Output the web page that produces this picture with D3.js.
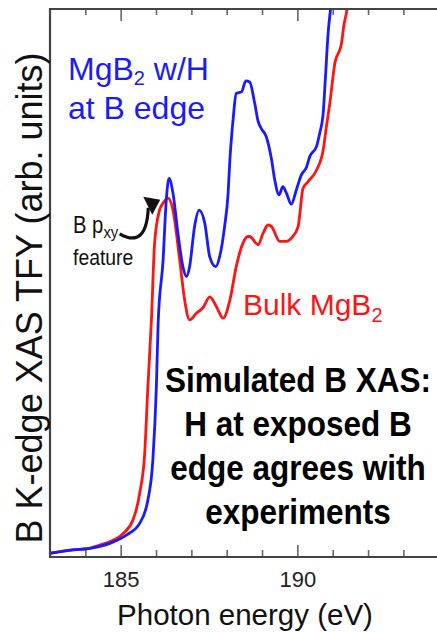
<!DOCTYPE html>
<html><head><meta charset="utf-8">
<script src="https://cdn.jsdelivr.net/npm/d3@7"></script>
<style>
html,body{margin:0;padding:0;background:#fff;}
svg{display:block;font-family:"Liberation Sans",Arial,Helvetica,sans-serif;}
</style></head>
<body>
<svg id="chart" width="437" height="632"></svg>
<script>
// ---- data ----
const bulkEnergy = [183.0,183.65,184.12,184.41,184.69,185.07,185.35,185.54,185.68,185.77,185.87,185.96,186.10,186.20,186.34,186.48,186.67,186.81,186.95,187.14,187.33,187.52,187.71,187.90,188.09,188.27,188.46,188.60,188.65,188.89,189.03,189.17,189.27,189.50,189.69,189.83,190.02,190.16,190.30,190.54,190.73,190.82,190.92,191.06,191.25,191.31,191.41,191.48];
const bulkTFY = [0.05,0.11,0.14,0.20,0.26,0.41,0.66,1.15,1.88,3.09,4.31,5.71,6.31,6.44,6.53,6.31,5.40,4.67,4.31,4.43,4.53,4.73,4.55,4.34,4.67,5.28,5.71,5.83,5.83,5.68,5.89,6.04,6.01,5.74,5.74,5.80,6.01,6.71,6.83,7.04,7.41,7.83,8.27,8.99,9.36,9.66,9.99,10.33];
const hEnergy = [183.0,183.65,184.12,184.69,185.16,185.54,185.77,185.91,186.01,186.06,186.20,186.29,186.37,186.48,186.62,186.76,186.86,186.95,187.09,187.22,187.38,187.52,187.69,187.80,187.94,188.04,188.09,188.18,188.27,188.42,188.54,188.65,188.79,188.89,188.98,189.12,189.27,189.36,189.48,189.59,189.69,189.83,189.97,190.11,190.26,190.35,190.54,190.63,190.73,190.79,190.87,190.94,191.0];
const hTFY = [0.05,0.11,0.14,0.23,0.38,0.60,1.02,1.75,3.09,4.25,5.40,6.50,6.89,6.62,5.89,5.28,5.10,5.28,6.01,6.31,6.07,5.46,5.28,5.46,6.01,6.62,7.23,7.96,8.44,8.47,8.67,8.65,8.27,7.93,7.80,7.65,7.23,6.86,6.59,6.74,6.62,6.42,6.68,6.95,7.10,7.29,7.47,7.71,8.08,8.69,9.54,9.99,10.33];
const majorTicks = [185, 190];
const minorTicks = [184, 186, 187, 188, 189, 191, 192, 193];
const xDomain = [183, 194];
const yDomain = [0, 10];
// annotation anchor (arrow to the B pxy feature), in data units
const arrowTail = [184.97, 5.88];
const arrowCtrl = [185.45, 6.0];
const arrowTip = [186.12, 6.5];

// ---- layout ----
const svg = d3.select("#chart");
const L = 50, T = 9, B = 557, R = 437;
const x = d3.scaleLinear().domain(xDomain).range([L, L + 11 * 35.34]);
const y = d3.scaleLinear().domain(yDomain).range([556, 8]);

const BLUE = "#1a1aff", RED = "#ff1414";

svg.append("defs").append("clipPath").attr("id", "clip")
  .append("rect").attr("x", L).attr("y", T).attr("width", R - L).attr("height", B - T);

// ticks
const tickColor = "#666";
function styleAxis(g){ g.select(".domain").remove(); g.selectAll("line").attr("stroke", tickColor).attr("stroke-width", 1.6); }
svg.append("g").attr("transform", `translate(0,${B})`)
  .call(d3.axisBottom(x).tickValues(minorTicks).tickSize(-7).tickFormat("")).call(styleAxis);
svg.append("g").attr("transform", `translate(0,${B})`)
  .call(d3.axisBottom(x).tickValues(majorTicks).tickSize(-12).tickPadding(14).tickFormat(d3.format("d")))
  .call(styleAxis)
  .call(g => g.selectAll("text").attr("font-size", 22).attr("fill", "#222")
     .attr("font-family", "Liberation Sans, Arial, sans-serif").attr("dy", "0.72em"));
svg.append("g").attr("transform", `translate(0,${T})`)
  .call(d3.axisTop(x).tickValues(minorTicks).tickSize(-6).tickFormat("")).call(styleAxis);
svg.append("g").attr("transform", `translate(0,${T})`)
  .call(d3.axisTop(x).tickValues(majorTicks).tickSize(-12).tickFormat("")).call(styleAxis);

// curves
const line = d3.line().x(d => x(d[0])).y(d => y(d[1])).curve(d3.curveMonotoneX);
const plot = svg.append("g").attr("clip-path", "url(#clip)");
plot.append("path").datum(bulkEnergy.map((e, i) => [e, bulkTFY[i]]))
  .attr("d", line).attr("fill", "none").attr("stroke", RED).attr("stroke-width", 2.8).attr("stroke-linejoin", "round");
plot.append("path").datum(hEnergy.map((e, i) => [e, hTFY[i]]))
  .attr("d", line).attr("fill", "none").attr("stroke", BLUE).attr("stroke-width", 2.8).attr("stroke-linejoin", "round");

// frame
const frame = svg.append("g").attr("stroke", "#444").attr("stroke-width", 2.2).attr("fill", "none");
frame.append("path").attr("d", `M${R},${T}H${L}V${B}H${R}`);

// axis labels
svg.append("text").attr("x", 245).attr("y", 625).attr("text-anchor", "middle")
  .attr("font-size", 29.5).attr("fill", "#111").text("Photon energy (eV)");
svg.append("text").attr("transform", "translate(42,298) rotate(-90)").attr("text-anchor", "middle")
  .attr("font-size", 36).attr("fill", "#111").text("B K-edge XAS TFY (arb. units)");

// series labels
const lab1 = svg.append("text").attr("x", 68).attr("y", 80).attr("font-size", 32).attr("fill", BLUE);
lab1.append("tspan").text("MgB");
lab1.append("tspan").attr("font-size", 20).attr("dy", 5).text("2");
lab1.append("tspan").attr("dy", -5).text(" w/H");
svg.append("text").attr("x", 68).attr("y", 119).attr("font-size", 32).attr("fill", BLUE).text("at B edge");

const lab2 = svg.append("text").attr("x", 243).attr("y", 315).attr("font-size", 30).attr("fill", RED);
lab2.append("tspan").text("Bulk MgB");
lab2.append("tspan").attr("font-size", 20).attr("dy", 7).text("2");

// B pxy feature annotation
const ann = svg.append("g").attr("transform", "translate(73,0) scale(0.88,1)").attr("fill", "#111");
const t1 = ann.append("text").attr("x", 0).attr("y", 233).attr("font-size", 23);
t1.append("tspan").text("B p");
t1.append("tspan").attr("font-size", 17).attr("dy", 5).text("xy");
ann.append("text").attr("x", 0).attr("y", 265).attr("font-size", 22).text("feature");

const tip = [x(arrowTip[0]), y(arrowTip[1])];
const tail = [x(arrowTail[0]), y(arrowTail[1])];
const ctrl = [x(arrowCtrl[0]), y(arrowCtrl[1])];
const p = d3.path();
p.moveTo(tail[0], tail[1]);
p.quadraticCurveTo(ctrl[0] + 10, ctrl[1] + 22, tip[0] - 12, tip[1] + 8);
svg.append("path").attr("d", p.toString()).attr("fill", "none").attr("stroke", "#111").attr("stroke-width", 3.2);
// arrowhead
svg.append("path")
  .attr("d", `M${tip[0]},${tip[1]} L${tip[0] - 17},${tip[1] - 3} L${tip[0] - 8},${tip[1] + 15} Z`)
  .attr("fill", "#111");

// bold message
const msg = ["Simulated B XAS:", "H at exposed B", "edge agrees with", "experiments"];
const mg = svg.append("g").attr("transform", "translate(298,0) scale(0.9,1)");
mg.selectAll("text").data(msg).join("text")
  .attr("x", 0).attr("y", (d, i) => 392 + i * 44)
  .attr("text-anchor", "middle").attr("font-weight", "bold").attr("font-size", 35).attr("fill", "#000")
  .text(d => d);
</script>
</body></html>
